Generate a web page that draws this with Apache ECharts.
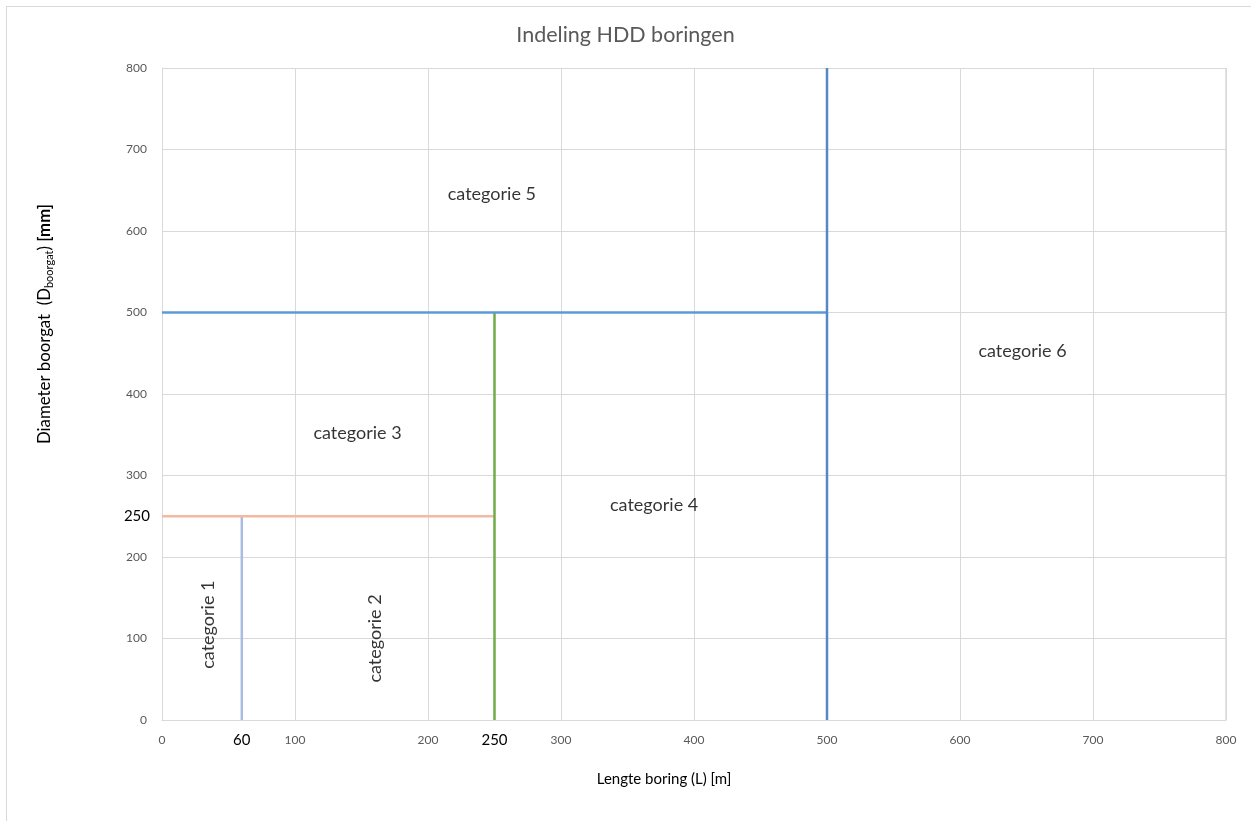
<!DOCTYPE html>
<html><head><meta charset="utf-8">
<script src="https://cdn.jsdelivr.net/npm/echarts@6/dist/echarts.min.js"></script>
<style>
html,body{margin:0;padding:0;background:#fff;width:1251px;height:821px;overflow:hidden;}
#frame{position:absolute;left:6px;top:6px;width:1300px;height:900px;border:1px solid #d9d9d9;box-sizing:border-box;}
#c{position:absolute;left:0;top:0;width:1251px;height:821px;}
</style></head>
<body><div id="frame"></div><div id="c"></div>
<script>
// Boundary lines (x = lengte [m], y = diameter [mm])
const cat1Line = [[60, 0], [60, 250]];
const cat2Line = [[0, 250], [250, 250]];
const greenLine = [[250, 0], [250, 500]];
const blueHLine = [[0, 500], [500, 500]];
const blueVLine = [[500, 0], [500, 800]];
// Category labels
const catNames = ['categorie 1', 'categorie 2', 'categorie 3', 'categorie 4', 'categorie 5', 'categorie 6'];
const catX = [35, 160, 147, 370, 248, 647];
const catY = [117, 100, 352, 264, 645, 452];
const catRotate = [90, 90, 0, 0, 0, 0];
// Extra tick labels
const extraX = [60, 250];
const extraY = [250];

const font = 'Lato';
const chart = echarts.init(document.getElementById('c'));
const lineSeries = (data, color, width) => ({
  type: 'line', data: data, symbol: 'none', silent: true,
  lineStyle: {color: color, width: width}, animation: false
});
chart.setOption({
  animation: false,
  title: {text: 'Indeling HDD boringen', left: 'center', top: 19,
    textStyle: {fontFamily: font, fontSize: 21.5, fontWeight: 'normal', color: '#595959'}},
  grid: {left: 162, right: 25, top: 68, bottom: 101},
  xAxis: [{
    type: 'value', min: 0, max: 800, interval: 100,
    axisLine: {show: true, lineStyle: {color: '#d9d9d9'}},
    axisTick: {show: false},
    splitLine: {show: true, lineStyle: {color: '#d9d9d9'}},
    axisLabel: {color: '#595959', fontFamily: font, fontSize: 12, margin: 14}
  }, {
    type: 'value', min: 0, max: 800, position: 'bottom',
    axisLine: {show: false}, axisTick: {show: false}, splitLine: {show: false},
    axisLabel: {customValues: extraX, color: '#000', fontFamily: font, fontSize: 15, margin: 13}
  }],
  yAxis: [{
    type: 'value', min: 0, max: 800, interval: 100,
    axisLine: {show: true, lineStyle: {color: '#d9d9d9'}},
    axisTick: {show: false},
    splitLine: {show: true, lineStyle: {color: '#d9d9d9'}},
    axisLabel: {color: '#595959', fontFamily: font, fontSize: 12, margin: 15}
  }, {
    type: 'value', min: 0, max: 800, position: 'left',
    axisLine: {show: false}, axisTick: {show: false}, splitLine: {show: false},
    axisLabel: {customValues: extraY, color: '#000', fontFamily: font, fontSize: 15, margin: 12}
  }],
  graphic: [
    {type: 'rect', shape: {x: 1226, y: 68, width: 0, height: 652}, style: {stroke: '#d9d9d9', lineWidth: 1}},
    {type: 'text', x: 664, y: 779, style: {text: 'Lengte boring (L) [m]', fontFamily: font, fontSize: 15,
      fill: '#000', align: 'center', verticalAlign: 'middle'}},
    {type: 'text', x: 45, y: 324, rotation: Math.PI / 2, style: {
      text: '{a|Diameter boorgat  (D}{s|boorgat}{a|) }{b|[mm]}',
      align: 'center', verticalAlign: 'middle',
      rich: {
        a: {fontFamily: font, fontSize: 16.8, fill: '#000'},
        b: {fontFamily: font, fontSize: 16.8, fill: '#000', fontWeight: 'bold'},
        s: {fontFamily: font, fontSize: 11, fill: '#000', padding: [8, 0, 0, 0]}
      }}}
  ],
  series: [
    lineSeries(cat1Line, '#a9bce3', 2.5),
    lineSeries(cat2Line, '#f5b8a2', 2.5),
    lineSeries(greenLine, '#70ad47', 2.5),
    lineSeries(blueHLine, '#5b9bd5', 2.5),
    lineSeries(blueVLine, '#5688c8', 2.5),
    {
      type: 'scatter', symbolSize: 1, itemStyle: {color: 'transparent'}, silent: true,
      data: catNames.map((n, i) => ({name: n, value: [catX[i], catY[i]], label: {rotate: catRotate[i]}})),
      label: {show: true, position: 'inside', formatter: p => p.name,
        fontFamily: font, fontSize: 18, color: '#000'}
    }
  ]
});
</script></body></html>
